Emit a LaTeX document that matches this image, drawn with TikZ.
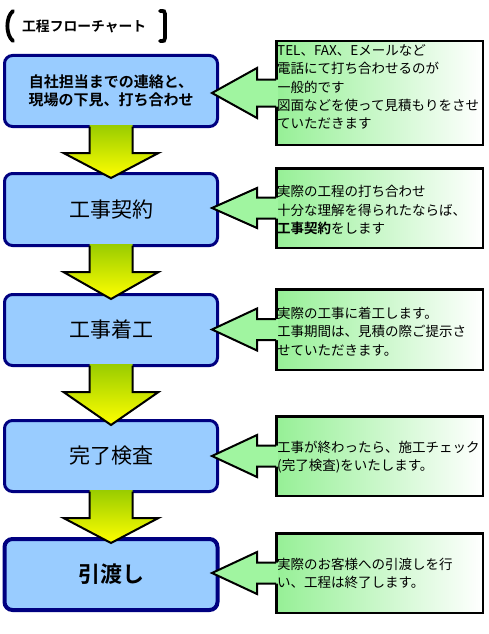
\documentclass[tikz,border=0pt]{standalone}
\usepackage{fontspec}
\setmainfont{Noto Sans CJK JP}[BoldFont={Noto Sans CJK JP Bold}]
\usetikzlibrary{calc}
\definecolor{boxblue}{RGB}{153,204,255}
\definecolor{boxnavy}{RGB}{0,0,128}
\definecolor{notegreen}{RGB}{150,240,150}
\definecolor{callgreen}{RGB}{160,245,160}
\definecolor{arrtop}{RGB}{153,204,0}
\definecolor{arrmid}{RGB}{225,240,0}
\definecolor{arrbot}{RGB}{255,255,0}
\newcommand\callarrow[3]{%
  \fill[callgreen] ($(#1.west)+(3,-#3)$) -- ($(#1.west)+(-18,-#3)$) -- ($(#1.west)+(-18,-#2)$) -- ($(#1.west)+(-63,0)$) -- ($(#1.west)+(-18,#2)$) -- ($(#1.west)+(-18,#3)$) -- ($(#1.west)+(3,#3)$) -- cycle;
  \draw[callline] ($(#1.west)+(1,-#3)$) -- ($(#1.west)+(-18,-#3)$) -- ($(#1.west)+(-18,-#2)$) -- ($(#1.west)+(-63,0)$) -- ($(#1.west)+(-18,#2)$) -- ($(#1.west)+(-18,#3)$) -- ($(#1.west)+(1,#3)$);
}
\newcommand\flowarrow[2]{%
  \path[top color=arrtop, middle color=arrmid, bottom color=arrbot] ($(#1.south)+(-21.5,-3)$) -- ($(#1.south)+(-21.5,25)$) -- ($(#1.south)+(-47.5,25)$) -- ($(#2.north)+(0,6)$) -- ($(#1.south)+(47.5,25)$) -- ($(#1.south)+(21.5,25)$) -- ($(#1.south)+(21.5,-3)$) -- cycle;
  \draw[flowline] ($(#1.south)+(-21.5,-1.5)$) -- ($(#1.south)+(-21.5,25)$) -- ($(#1.south)+(-47.5,25)$) -- ($(#2.north)+(0,6)$) -- ($(#1.south)+(47.5,25)$) -- ($(#1.south)+(21.5,25)$) -- ($(#1.south)+(21.5,-1.5)$);
}
\begin{document}
\begin{tikzpicture}[x=1pt,y=-1pt,
  stepbox/.style={draw=boxnavy, line width=3pt, fill=boxblue, rounded corners=8pt,
    minimum width=213pt, inner sep=0pt, align=center},
  notebox/.style={draw=black, line width=2.5pt, left color=notegreen, right color=white,
    minimum width=206.5pt, inner sep=0pt},
  notetext/.style={anchor=west, align=left, inner sep=0pt, font=\fontsize{13.5}{18.3}\selectfont},
  callline/.style={draw=black, line width=2pt, line join=miter},
  flowline/.style={draw=black, line width=2pt, line join=miter},
]
\path[fill=white] (0,0) rectangle (488,634);
\useasboundingbox (0,0) rectangle (488,634);

% title
\draw[line width=3.8pt, line cap=round] (13,11) .. controls (5.5,17) and (5.5,35) .. (13,41);
\draw[line width=3.8pt, line cap=round] (160,11) .. controls (164.5,11) .. (165,14) -- (165,38) .. controls (164.5,41) .. (160,41);
\node[anchor=west, inner sep=0pt, font=\bfseries\fontsize{13.8}{14}\selectfont] (title) at (22,26) {工程フローチャート};

% note boxes
\node[notebox, minimum height=103.5pt] (n1) at (379.5,93) {};
\node[notebox, minimum height=79.5pt] (n2) at (379.5,208) {};
\node[notebox, minimum height=80.5pt] (n3) at (379.5,329.5) {};
\node[notebox, minimum height=79.5pt] (n4) at (379.5,456) {};
\node[notebox, minimum height=79.5pt] (n5) at (379.5,573) {};

\node[notetext] (t1) at ($(n1.west)+(2,-6)$) {TEL、FAX、Eメールなど\\電話にて打ち合わせるのが\\一般的です\\図面などを使って見積もりをさせ\\ていただきます};
\node[notetext] (t2) at ($(n2.west)+(2,2)$) {実際の工程の打ち合わせ\\十分な理解を得られたならば、\\\textbf{工事契約}をします};
\node[notetext] (t3) at ($(n3.west)+(2,2)$) {実際の工事に着工します。\\工事期間は、見積の際ご提示さ\\せていただきます。};
\node[notetext] (t4) at ($(n4.west)+(2,1)$) {工事が終わったら、施工チェック\\(完了検査)をいたします。};
\node[notetext] (t5) at ($(n5.west)+(2,0.5)$) {実際のお客様への引渡しを行\\い、工程は終了します。};

% step boxes
\node[stepbox, minimum height=71pt, font=\bfseries\fontsize{15}{18}\selectfont] (s1) at (111,91) {自社担当までの連絡と、\\現場の下見、打ち合わせ};
\node[stepbox, minimum height=72pt, font=\fontsize{21}{21}\selectfont] (s2) at (111,209.5) {工事契約};
\node[stepbox, minimum height=71pt, font=\fontsize{21}{21}\selectfont] (s3) at (111,330) {工事着工};
\node[stepbox, minimum height=71pt, font=\fontsize{21}{21}\selectfont] (s4) at (111,456) {完了検査};
\node[stepbox, line width=4pt, minimum height=71pt, font=\bfseries\fontsize{22}{22}\selectfont] (s5) at (111,574.5) {引渡し};

% down arrows
\flowarrow{s1}{s2}
\flowarrow{s2}{s3}
\flowarrow{s3}{s4}
\flowarrow{s4}{s5}

% callout arrows
\callarrow{n1}{25}{13.5}
\callarrow{n2}{20}{10.5}
\callarrow{n3}{21}{10.5}
\callarrow{n4}{21}{10.5}
\callarrow{n5}{21}{10.5}
\end{tikzpicture}
\end{document}
